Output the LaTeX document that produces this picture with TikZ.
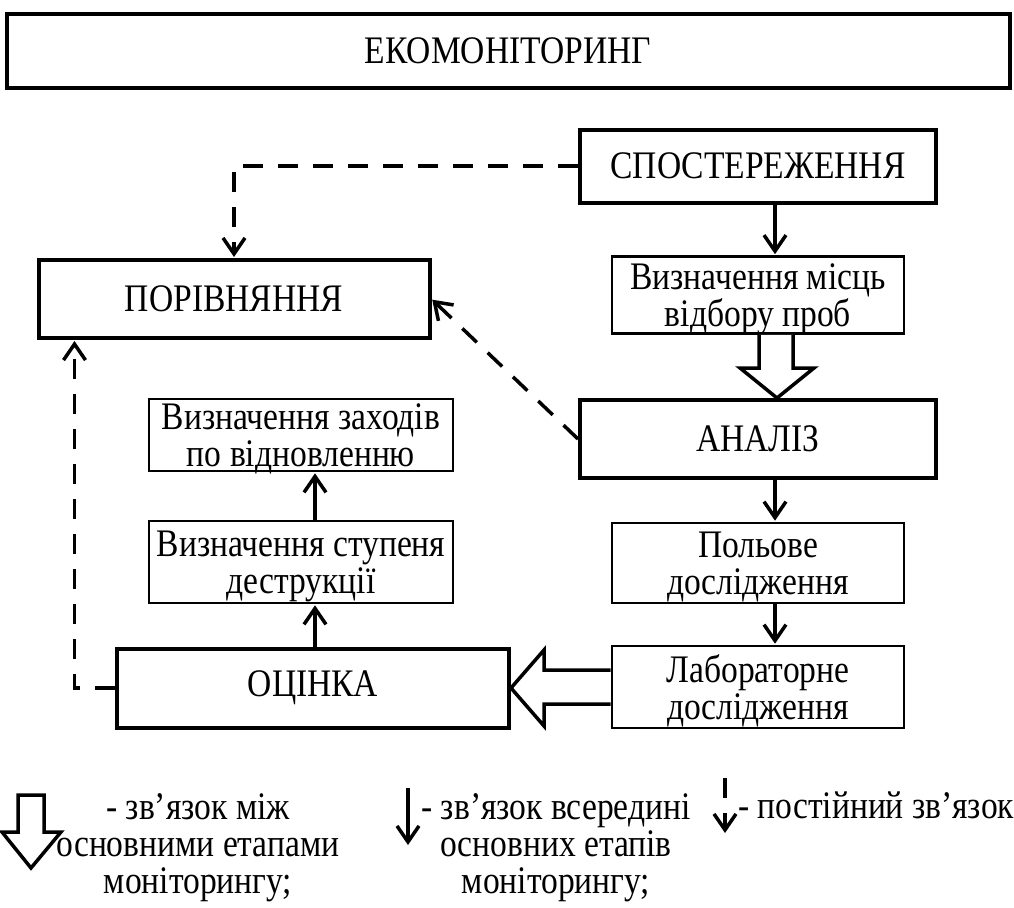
\documentclass[tikz,border=0pt]{standalone}
\usepackage{fontspec}
\setmainfont{Liberation Serif}[FakeStretch=0.86]
\usetikzlibrary{calc, arrows.meta}

\begin{document}
\begin{tikzpicture}[
    x=1pt, y=-1pt,
    every node/.style={font=\fontsize{39}{37}\selectfont, align=center, inner sep=0pt},
    bigbox/.style={draw, line width=4pt, minimum width=356pt, minimum height=78pt},
    smallbox/.style={draw, line width=2.6pt, minimum width=292pt, minimum height=80pt, text depth=-9pt},
    link/.style={line width=3.5pt, shorten >=1pt, -{Straight Barb[length=16pt,width=22pt]}},
    dlink/.style={link, dash pattern=on 20pt off 15pt},
    blockarrow/.style={draw, line width=3.5pt, fill=white, line join=miter},
    ]
    \useasboundingbox (0,0) rectangle (1014,907);

    \node[bigbox, minimum width=1003pt, minimum height=74pt] (eko) at (508,51) {ЕКОМОНІТОРИНГ};

    \node[bigbox, minimum height=73pt] (spost) at (758,166) {СПОСТЕРЕЖЕННЯ};
    \node[smallbox, minimum height=77pt] (mistsia) at (758,295) {Визначення місць\\відбору проб};
    \node[bigbox] (analiz) at (758,439) {АНАЛІЗ};
    \node[smallbox] (polove) at (758,563) {Польове\\дослідження};
    \node[smallbox, minimum height=82pt] (lab) at (758,687) {Лабораторне\\дослідження};

    \node[bigbox, minimum width=391pt] (porivn) at (234,299) {ПОРІВНЯННЯ};
    \node[smallbox, minimum width=304pt, minimum height=72pt] (zakhody) at (301,435) {Визначення заходів\\по відновленню};
    \node[smallbox, minimum width=304pt, minimum height=82pt] (stupin) at (301,562) {Визначення ступеня\\деструкції};
    \node[bigbox, minimum width=392pt, minimum height=79pt] (ocinka) at (313,688) {ОЦІНКА};

    \draw[link] ([xshift=17pt]spost.south) -- ([xshift=17pt]mistsia.north);
    \draw[link] ([xshift=17pt]analiz.south) -- ([xshift=17pt]polove.north);
    \draw[link] ([xshift=17pt]polove.south) -- ([xshift=17pt]lab.north);
    \draw[link] ([xshift=2pt]ocinka.north) -- ([xshift=14pt]stupin.south);
    \draw[link] ([xshift=14pt]stupin.north) -- ([xshift=14pt]zakhody.south);

    \draw[dlink] (spost.west) -| (porivn.north);
    \draw[dlink] (analiz.west) -- (porivn.east);
    \draw[dlink] (ocinka.west) -| ([xshift=38pt]porivn.south west);

    \draw[blockarrow] ([xshift=1pt]mistsia.south) |- ([xshift=-18pt,yshift=30pt]analiz.north)
        -- ([xshift=19pt]analiz.north) -- ([xshift=56pt,yshift=30pt]analiz.north) -| ([xshift=35pt]mistsia.south);
    \draw[blockarrow] ([yshift=17pt]lab.west) -| ([xshift=33pt,yshift=38pt]ocinka.east)
        -- (ocinka.east) -- ([xshift=33pt,yshift=-38pt]ocinka.east) |- ([yshift=-17pt]lab.west);

    % legend
    \draw[blockarrow] (18,795) -- (44,795) -- (44,832) -- (61,832) -- (31,868)
        -- (2,832) -- (18,832) -- cycle;
    \node[anchor=base] (legA) at (198,893) {- зв’язок між\\основними етапами\\моніторингу;};
    \coordinate (solidA) at (408,788);
    \coordinate (solidB) at (408,846);
    \draw[link] (solidA) -- (solidB);
    \node[anchor=base] (legB) at (556,893) {- зв’язок всередині\\основних етапів\\моніторингу;};
    \coordinate (dashA) at (725,778);
    \coordinate (dashB) at (725,834);
    \draw[dlink] (dashA) -- (dashB);
    \node[anchor=base west] (legC) at (738,818) {- постійний зв’язок};
\end{tikzpicture}
\end{document}
